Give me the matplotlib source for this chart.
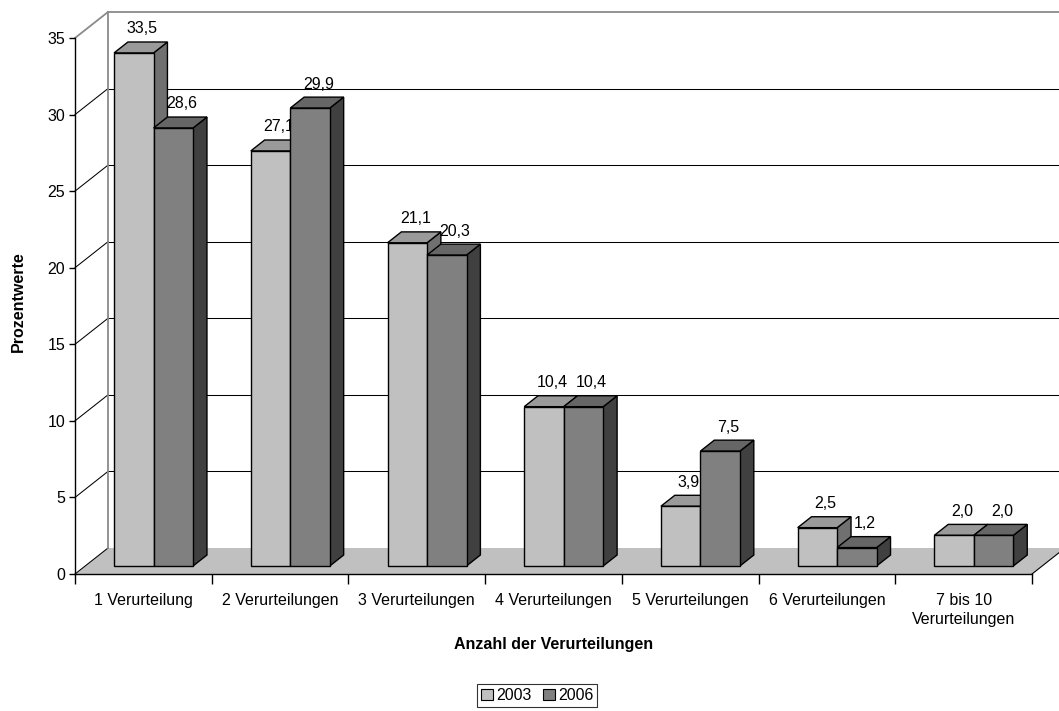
import matplotlib
matplotlib.use("Agg")
import matplotlib.pyplot as plt
from matplotlib.patches import Polygon, Patch

plt.rcParams['font.family'] = ['Liberation Sans', 'DejaVu Sans']

# ---- data ----
categories = ['1 Verurteilung', '2 Verurteilungen', '3 Verurteilungen',
              '4 Verurteilungen', '5 Verurteilungen', '6 Verurteilungen',
              '7 bis 10\nVerurteilungen']
series_names = ['2003', '2006']
values_2003 = [33.5, 27.1, 21.1, 10.4, 3.9, 2.5, 2.0]
values_2006 = [28.6, 29.9, 20.3, 10.4, 7.5, 1.2, 2.0]
y_ticks = [0, 5, 10, 15, 20, 25, 30, 35]

# ---- styles ----
front_cols = ['#c0c0c0', '#808080']
top_cols = ['#9a9a9a', '#666666']
side_cols = ['#707070', '#404040']
FS = 11.5

W, H = 1059, 711
fig = plt.figure(figsize=(W / 100, H / 100), dpi=100)
ax_l, ax_b, ax_w, ax_h = 75, 137, 957, 536
ax = fig.add_axes([ax_l / W, ax_b / H, ax_w / W, ax_h / H])
ncat = len(categories)
ymax = 35
ax.set_xlim(0, ncat)
ax.set_ylim(0, ymax)

pxx = ax_w / ncat
pxy = ax_h / ymax
DX = 33 / pxx
DY = 26 / pxy

# floor
floor = Polygon([(0, 0), (ncat, 0), (ncat + DX, DY), (DX, DY)], closed=True,
                facecolor='#c0c0c0', edgecolor='none', zorder=1, clip_on=False)
ax.add_patch(floor)
ax.plot([ncat, ncat + DX], [0, DY], color='black', lw=0.8, zorder=1.2, clip_on=False)

# walls
for v in y_ticks:
    if v == ymax:
        continue
    ax.plot([0, DX], [v, v + DY], color='black', lw=0.75, zorder=1.5, clip_on=False)
    if v > 0:
        ax.plot([DX, ncat + DX + 0.2], [v + DY, v + DY], color='black', lw=0.75,
                zorder=1.5, clip_on=False)
wall_c = '#8a8a8a'
ax.plot([0, DX], [ymax, ymax + DY], color=wall_c, lw=1.3, zorder=1.5, clip_on=False)
ax.plot([DX, ncat + DX + 0.2], [ymax + DY, ymax + DY], color=wall_c, lw=1.3,
        zorder=1.5, clip_on=False)
ax.plot([DX, DX], [DY, ymax + DY], color=wall_c, lw=1.3, zorder=1.5, clip_on=False)

# bars
bw = 0.289
f0, f1 = 0.31, 0.73
ox, oy = f0 * DX, f0 * DY
bdx, bdy = (f1 - f0) * DX, (f1 - f0) * DY
z = 3
for i in range(ncat):
    for s, vals in enumerate([values_2003, values_2006]):
        v = vals[i]
        x0 = i + 0.5 - bw + s * bw + ox
        y0 = oy
        yt = v + oy
        front = [(x0, y0), (x0 + bw, y0), (x0 + bw, yt), (x0, yt)]
        top = [(x0, yt), (x0 + bw, yt), (x0 + bw + bdx, yt + bdy), (x0 + bdx, yt + bdy)]
        side = [(x0 + bw, y0), (x0 + bw + bdx, y0 + bdy), (x0 + bw + bdx, yt + bdy), (x0 + bw, yt)]
        for pts, c in [(side, side_cols[s]), (top, top_cols[s]), (front, front_cols[s])]:
            ax.add_patch(Polygon(pts, closed=True, facecolor=c, edgecolor='black',
                                 lw=1.0, joinstyle='miter', zorder=z, clip_on=False))
        lbl = ('%.1f' % v).replace('.', ',')
        ax.annotate(lbl, (x0 + bw / 2 + bdx * 0.6, yt + bdy), xytext=(0, 4),
                    textcoords='offset points', ha='center', va='bottom',
                    fontsize=FS, zorder=z + 0.05, annotation_clip=False)
        z += 0.1

# axes
for sp in ['top', 'right']:
    ax.spines[sp].set_visible(False)
ax.spines['left'].set_linewidth(1.0)
ax.spines['bottom'].set_linewidth(1.0)
ax.spines['left'].set_zorder(2)
ax.spines['bottom'].set_zorder(2)
ax.set_yticks(y_ticks)
ax.set_yticklabels([str(t) for t in y_ticks], fontsize=FS)
ax.tick_params(axis='y', length=4, width=1, pad=3, direction='out')
ax.set_xticks(list(range(ncat + 1)))
ax.set_xticklabels([])
ax.tick_params(axis='x', which='major', length=7, width=1, direction='out')
ax.set_xticks([i + 0.5 for i in range(ncat)], minor=True)
ax.set_xticklabels(categories, minor=True, fontsize=FS, linespacing=1.3)
ax.tick_params(axis='x', which='minor', length=0, pad=14)
ax.patch.set_visible(False)

fig.text((ax_l + ax_w / 2) / W, 1 - 645 / H, 'Anzahl der Verurteilungen',
         ha='center', va='center', fontsize=FS, fontweight='bold')
fig.text(18 / W, 1 - 302 / H, 'Prozentwerte', ha='center', va='center',
         rotation=90, fontsize=FS, fontweight='bold')

handles = [Patch(facecolor=front_cols[k], edgecolor='black', lw=0.8)
           for k in range(len(series_names))]
leg = fig.legend(handles, series_names, loc='upper center',
                 bbox_to_anchor=(537 / W, 1 - 684 / H), ncol=2, frameon=True,
                 fancybox=False, fontsize=FS, handlelength=0.75, handleheight=0.75,
                 handletextpad=0.2, columnspacing=0.7, borderpad=0.25,
                 borderaxespad=0)
leg.get_frame().set_edgecolor('black')
leg.get_frame().set_linewidth(0.8)

fig.savefig('out.png', dpi=100)
